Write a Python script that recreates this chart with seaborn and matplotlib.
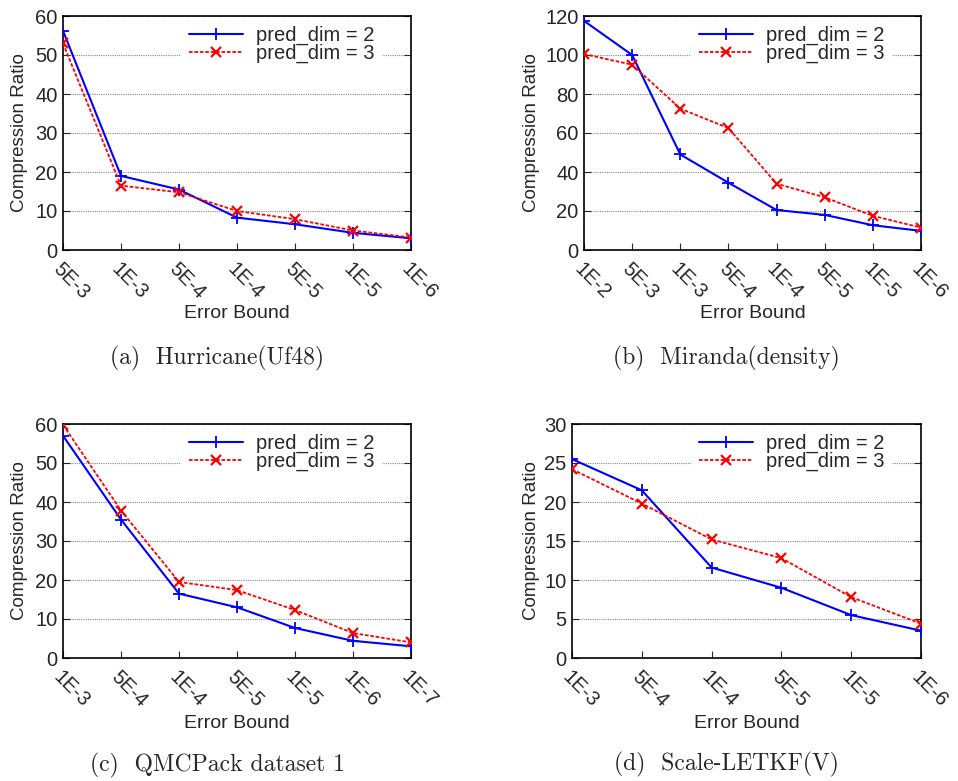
import matplotlib
matplotlib.use("Agg")
import matplotlib.pyplot as plt
import seaborn as sns
import pandas as pd

# ---- data ----
hur_labels = ["5E-3", "1E-3", "5E-4", "1E-4", "5E-5", "1E-5", "1E-6"]
hur_pd2 = [56.2, 19.0, 15.5, 8.3, 6.6, 4.4, 3.0]
hur_pd3 = [53.0, 16.5, 14.8, 10.0, 7.9, 5.0, 3.2]

mir_labels = ["1E-2", "5E-3", "1E-3", "5E-4", "1E-4", "5E-5", "1E-5", "1E-6"]
mir_pd2 = [117.5, 100.0, 49.0, 34.5, 20.5, 18.0, 12.7, 9.8]
mir_pd3 = [100.5, 95.0, 72.5, 62.5, 34.0, 27.0, 17.5, 11.5]

qmc_labels = ["1E-3", "5E-4", "1E-4", "5E-5", "1E-5", "1E-6", "1E-7"]
qmc_pd2 = [57.0, 35.5, 16.5, 13.0, 7.7, 4.4, 3.0]
qmc_pd3 = [59.8, 37.8, 19.5, 17.4, 12.3, 6.4, 4.0]

sca_labels = ["1E-3", "5E-4", "1E-4", "5E-5", "1E-5", "1E-6"]
sca_pd2 = [25.5, 21.5, 11.6, 9.0, 5.5, 3.5]
sca_pd3 = [24.2, 19.8, 15.2, 12.8, 7.8, 4.4]

captions = ["(a)  Hurricane(Uf48)", "(b)  Miranda(density)",
            "(c)  QMCPack dataset 1", "(d)  Scale-LETKF(V)"]
ymaxes = [60, 120, 60, 30]
ysteps = [10, 20, 10, 5]

panels = [
    (hur_labels, hur_pd2, hur_pd3),
    (mir_labels, mir_pd2, mir_pd3),
    (qmc_labels, qmc_pd2, qmc_pd3),
    (sca_labels, sca_pd2, sca_pd3),
]

sns.set_style("white")
plt.rcParams["font.family"] = ["Liberation Sans", "DejaVu Sans"]

W, H = 958, 781
fig = plt.figure(figsize=(W / 100, H / 100), dpi=100)

# axes boxes in pixels: left, top, right, bottom
boxes = [(63, 16, 411, 250), (584, 16, 921, 250),
         (63, 424, 411, 658), (572, 424, 921, 658)]
cap_pos = [(217, 358), (726, 358), (217, 765), (726, 764)]
ylab_x = [20, 531, 20, 531]
xlab_y = [314, 314, 723, 723]

for i, ((labels, p2, p3), (l, t, r, b)) in enumerate(zip(panels, boxes)):
    ax = fig.add_axes([l / W, 1 - b / H, (r - l) / W, (b - t) / H])
    n = len(labels)
    xs = list(range(n))
    df = pd.DataFrame({"x": xs * 2, "y": p2 + p3,
                       "series": ["pred_dim = 2"] * n + ["pred_dim = 3"] * n})
    sns.lineplot(data=df[df.series == "pred_dim = 2"], x="x", y="y", ax=ax,
                 color="#0000ff", lw=1.5, marker="+", markersize=8,
                 markeredgewidth=1.3, markeredgecolor="#0000ff",
                 label="pred_dim = 2", zorder=3)
    sns.lineplot(data=df[df.series == "pred_dim = 3"], x="x", y="y", ax=ax,
                 color="#ff0000", lw=1.3, linestyle=(0, (2, 1)), marker="x",
                 markersize=6.5, markeredgewidth=1.6, markeredgecolor="#ff0000",
                 label="pred_dim = 3", zorder=4)
    ax.set_xlim(0, n - 1)
    ax.set_ylim(0, ymaxes[i])
    ax.set_yticks(range(0, ymaxes[i] + 1, ysteps[i]))
    ax.set_xticks(xs)
    ax.set_xticklabels(labels, rotation=-45, ha="left", va="top",
                       rotation_mode="anchor", fontsize=14.5)
    ax.tick_params(axis="y", labelsize=14.5, direction="in", length=5, right=True,
                   left=True, pad=4)
    ax.tick_params(axis="x", direction="in", length=5, top=False, bottom=True, pad=7)
    ax.grid(axis="y", color="#888888", linestyle=(0, (1, 1)), lw=0.8)
    ax.set_axisbelow(True)
    for s in ax.spines.values():
        s.set_color("black")
        s.set_linewidth(1.2)
    ax.set_xlabel("Error Bound", fontsize=14)
    ax.set_ylabel("Compression Ratio", fontsize=13.5)
    ax.yaxis.set_label_coords((ylab_x[i] - l) / (r - l), 0.5)
    ax.xaxis.set_label_coords(0.5, -(xlab_y[i] - b) / (b - t))
    ax.xaxis.label.set_va("center")
    ax.yaxis.label.set_va("center")
    anchor_x = (r - 222 - 8 - l) / (r - l)
    leg = ax.legend(loc="upper left", bbox_to_anchor=(anchor_x, 1.0 - 1.5 / (b - t)),
                    frameon=True, fontsize=14.5, handlelength=2.7,
                    borderaxespad=0.0, handletextpad=0.6, labelspacing=-0.05,
                    borderpad=0.4)
    leg.get_frame().set_edgecolor("none")
    leg.get_frame().set_facecolor("white")
    leg.get_frame().set_alpha(1)
    fig.text(cap_pos[i][0] / W, 1 - cap_pos[i][1] / H, captions[i],
             ha="center", va="center", fontsize=17,
             family=["cmr10", "DejaVu Serif"])

fig.savefig("out.png", dpi=100)
